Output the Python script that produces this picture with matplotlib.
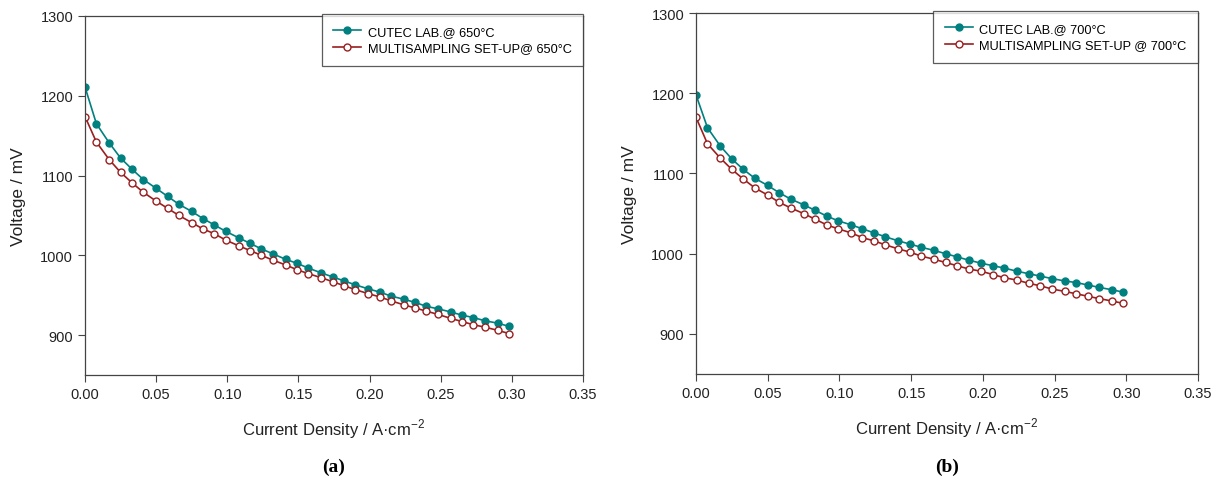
import matplotlib

matplotlib.use("Agg")
import matplotlib.pyplot as plt

plt.rcParams["font.family"] = ["Liberation Sans", "DejaVu Sans"]

# current density steps (A/cm2), shared by all four series
current = [0.000, 0.008, 0.017, 0.025, 0.033, 0.041, 0.050, 0.058, 0.066,
           0.075, 0.083, 0.091, 0.099, 0.108, 0.116, 0.124, 0.132, 0.141,
           0.149, 0.157, 0.166, 0.174, 0.182, 0.190, 0.199, 0.207, 0.215,
           0.224, 0.232, 0.240, 0.248, 0.257, 0.265, 0.273, 0.281, 0.290,
           0.298]

# 650 C
cutec_650 = [1211, 1165, 1141, 1122, 1108, 1095, 1084, 1074, 1064, 1055,
             1046, 1038, 1030, 1022, 1015, 1008, 1002, 995, 990, 984, 978,
             973, 968, 963, 958, 954, 949, 945, 941, 936, 933, 929, 925,
             922, 918, 915, 911]
multi_650 = [1174, 1142, 1120, 1104, 1091, 1079, 1068, 1059, 1050, 1041,
             1033, 1027, 1019, 1012, 1006, 1000, 994, 988, 982, 977, 972,
             967, 962, 957, 952, 948, 943, 938, 934, 930, 926, 921, 917,
             913, 910, 906, 902]

# 700 C
cutec_700 = [1198, 1157, 1134, 1118, 1105, 1094, 1085, 1076, 1068, 1061,
             1054, 1047, 1041, 1036, 1031, 1026, 1021, 1016, 1012, 1008,
             1004, 1000, 996, 992, 988, 985, 982, 978, 975, 972, 969, 966,
             964, 961, 958, 955, 952]
multi_700 = [1170, 1137, 1119, 1105, 1093, 1082, 1073, 1064, 1057, 1050,
             1043, 1036, 1031, 1026, 1020, 1016, 1011, 1006, 1002, 997, 993,
             989, 985, 981, 978, 974, 970, 967, 963, 960, 956, 953, 950,
             947, 944, 941, 938]

panels = [
    ("(a)", cutec_650, multi_650,
     "CUTEC LAB.@ 650°C", "MULTISAMPLING SET-UP@ 650°C"),
    ("(b)", cutec_700, multi_700,
     "CUTEC LAB.@ 700°C", "MULTISAMPLING SET-UP @ 700°C"),
]

TEAL = "#00807f"
DARKRED = "#9a1f1f"
W, H = 1221, 481

fig = plt.figure(figsize=(W / 100, H / 100), dpi=100)
# axes boxes in pixels: left, top, right, bottom
boxes = [(85, 17, 583, 376), (696, 14, 1198, 375)]

for (tag, cutec, multi, lab1, lab2), (l, t, r, b) in zip(panels, boxes):
    ax = fig.add_axes([l / W, 1 - b / H, (r - l) / W, (b - t) / H])
    ax.plot(current, cutec, "-o", color=TEAL, lw=1.2, ms=5,
            mfc=TEAL, mec=TEAL, label=lab1)
    ax.plot(current, multi, "-o", color=DARKRED, lw=1.2, ms=5,
            mfc="white", mec=DARKRED, mew=1.0, label=lab2)
    ax.set_xlim(0, 0.35)
    ax.set_ylim(850, 1300)
    ax.set_xticks([0, 0.05, 0.10, 0.15, 0.20, 0.25, 0.30, 0.35])
    ax.set_xticklabels([f"{v:.2f}" for v in ax.get_xticks()])
    ax.set_yticks([900, 1000, 1100, 1200, 1300])
    ax.tick_params(direction="out", length=5, width=0.8, labelsize=10.5,
                   color="#444444", labelcolor="#222222")
    for sp in ax.spines.values():
        sp.set_color("#444444")
        sp.set_linewidth(0.9)
    ax.set_xlabel("Current Density / A·cm$^{\\mathregular{-2}}$",
                  fontsize=12, color="#222222", labelpad=11)
    ax.set_ylabel("Voltage / mV", fontsize=12.5, color="#222222",
                  labelpad=10)
    leg = ax.legend(loc="upper right", bbox_to_anchor=(1, 1.005),
                    fontsize=9.2, frameon=True, fancybox=False,
                    borderaxespad=0, handlelength=2.2, borderpad=0.9,
                    labelspacing=0.35, handletextpad=0.5)
    leg.get_frame().set_edgecolor("#333333")
    leg.get_frame().set_linewidth(0.9)
    fig.text((l + r) / 2 / W, 1 - 467 / H, tag, ha="center", va="center",
             fontsize=14, fontweight="bold", family="Liberation Serif")

fig.savefig("out.png", dpi=100)
